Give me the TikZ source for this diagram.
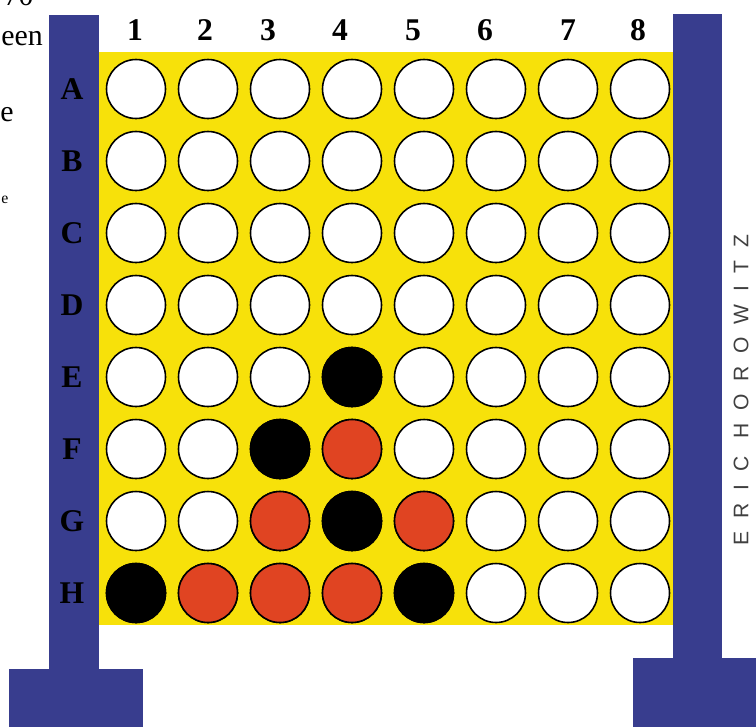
\documentclass[tikz,border=0pt]{standalone}
\usepackage{fontspec}
\setmainfont{Liberation Serif}
\newfontfamily\signfont{Liberation Sans}[LetterSpace=60]
\definecolor{postblue}{HTML}{383D8E}
\definecolor{boardyellow}{HTML}{F7E10A}
\definecolor{piecered}{HTML}{E04422}
\tikzset{
  hole/.style={circle, draw=black, line width=0.9pt, fill=white,
    minimum size=1.18cm, inner sep=0pt},
  boardlabel/.style={font=\fontsize{18}{18}\selectfont\bfseries, inner sep=0pt},
  cutoff/.style={font=\fontsize{17}{17}\selectfont, inner sep=0pt}
}
\begin{document}
\begin{tikzpicture}[x=0.02cm,y=-0.02cm]
\useasboundingbox (0,0) rectangle (756,727);
% stand
\fill[postblue] (49,15) rectangle (99,727);
\fill[postblue] (9,669) rectangle (143,727);
\fill[postblue] (673,14) rectangle (722,727);
\fill[postblue] (633,658) rectangle (756,727);
% board
\fill[boardyellow] (99,52) rectangle (673,625);
% holes
\foreach \r [count=\i from 0] in {A,...,H}
  \foreach \c in {1,...,8}
    \node[hole] (\r\c) at ({136+72*(\c-1)},{89+72*\i}) {};
% pieces
\foreach \p in {E4,F3,G4,H1,H5}
  \node[hole, fill=black] (p\p) at (\p) {};
\foreach \p in {F4,G3,G5,H2,H3,H4}
  \node[hole, fill=piecered] (p\p) at (\p) {};
% labels
\foreach \c/\x in {1/135,2/205,3/268,4/340,5/413,6/485,7/568,8/638}
  \node[boardlabel] (col\c) at (\x,30) {\c};
\foreach \r [count=\i from 0] in {A,...,H}
  \node[boardlabel] (row\r) at (72,{89+72*\i}) {\r};
\node[rotate=90, font=\signfont\fontsize{12}{12}\selectfont, text=black!75,
  inner sep=0pt] (signature) at (741,390) {ERIC HOROWITZ};
% text cut off at the left edge
\node[cutoff, anchor=base east] (cut70) at (34,5) {70};
\node[cutoff, anchor=base west] (cuteen) at (1,45) {een};
\node[cutoff, anchor=base west] (cute) at (0,121) {e};
\node[cutoff, font=\fontsize{9}{9}\selectfont, anchor=base west] (cutsmall) at (1,203) {e};
\end{tikzpicture}
\end{document}
